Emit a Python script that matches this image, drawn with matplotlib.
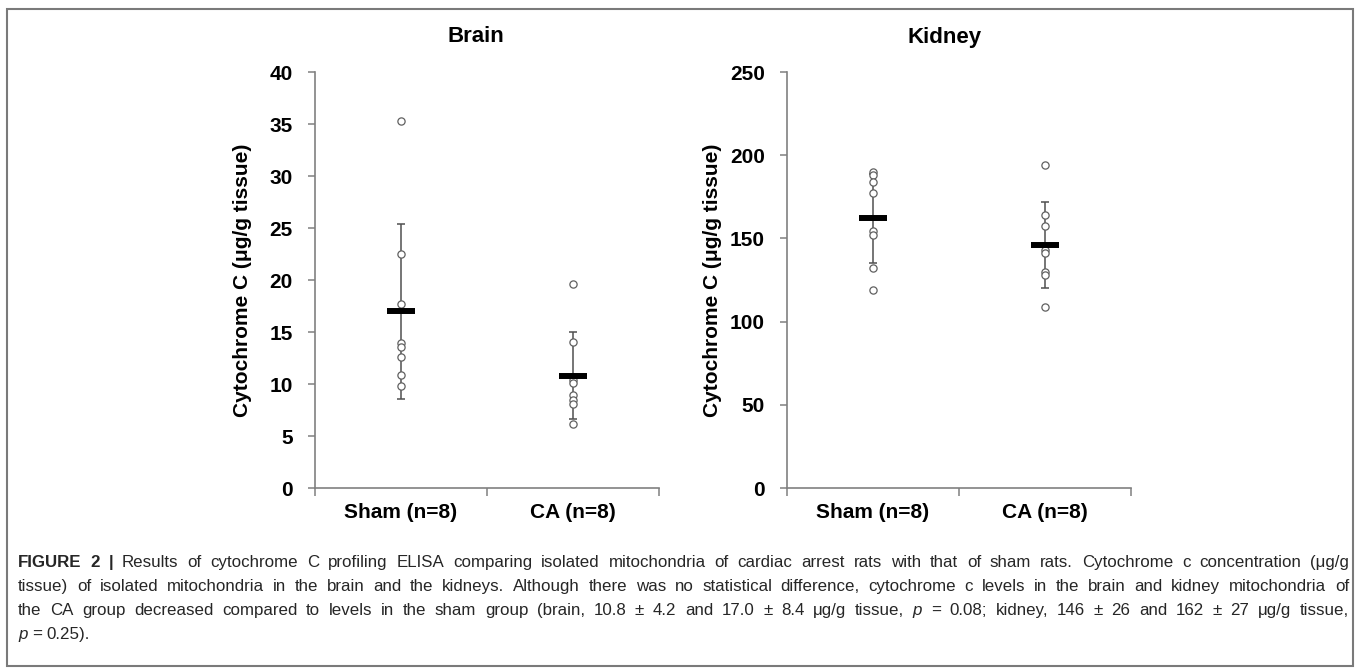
import numpy as np
import matplotlib
matplotlib.use("Agg")
import matplotlib.pyplot as plt
from matplotlib.patches import Rectangle
from matplotlib.transforms import IdentityTransform

plt.rcParams['font.family'] = ['Liberation Sans', 'DejaVu Sans']

groups = ["Sham (n=8)", "CA (n=8)"]

# brain, ug/g tissue
brain_sham = [35.3, 22.5, 17.7, 13.9, 13.6, 12.6, 10.9, 9.8]
brain_ca = [19.6, 14.0, 10.4, 10.1, 8.9, 8.5, 8.1, 6.2]
brain_mean = [17.0, 10.8]
brain_sd = [8.4, 4.2]

# kidney, ug/g tissue
kidney_sham = [190, 188, 184, 177, 154.5, 152, 132, 119]
kidney_ca = [194, 164, 157.5, 143, 141, 130, 128, 109]
kidney_mean = [162, 146]
kidney_sd = [27, 26]

W, H = 1358, 671
fig = plt.figure(figsize=(W / 100, H / 100), dpi=100)

axc = '#808080'


def panel(ax, pts, mean, sd, ymax, ystep):
    x = np.arange(1, len(groups) + 1)
    ax.errorbar(x, mean, yerr=sd, fmt='none', ecolor='#505050', elinewidth=1.1,
                capsize=2.6, capthick=1.1, zorder=2)
    for xi, vals in zip(x, pts):
        ax.plot(np.full(len(vals), xi), vals, 'o', ms=5.2, mfc='white',
                mec='#606060', mew=0.9, zorder=3, clip_on=False)
    ax.hlines(mean, x - 0.083, x + 0.083, colors='black', lw=4.3, zorder=4)
    ax.set_xlim(0.5, len(groups) + 0.5)
    ax.set_ylim(0, ymax)
    ax.set_yticks(np.arange(0, ymax + 1, ystep))
    ax.set_xticks(np.arange(0.5, len(groups) + 1, 1))
    ax.set_xticklabels([])
    ax.set_xticks(x, minor=True)
    ax.set_xticklabels(groups, minor=True, fontsize=15, fontweight='bold')
    ax.tick_params(axis='x', which='major', direction='out', length=6, color=axc, width=1.1)
    ax.tick_params(axis='x', which='minor', length=0, pad=11)
    ax.tick_params(axis='y', direction='out', length=5, color=axc, width=1.1, pad=11,
                   labelsize=15)
    for lab in ax.get_yticklabels():
        lab.set_fontweight('bold')
    for s in ('top', 'right'):
        ax.spines[s].set_visible(False)
    for s in ('left', 'bottom'):
        ax.spines[s].set_color(axc)
        ax.spines[s].set_linewidth(1.2)
    ax.set_ylabel("Cytochrome C (μg/g tissue)", fontsize=15, fontweight='bold')


def frac(px_l, px_r, px_top, px_bot):
    return [px_l / W, 1 - px_bot / H, (px_r - px_l) / W, (px_bot - px_top) / H]


ax1 = fig.add_axes(frac(315, 659, 72, 488))
panel(ax1, [brain_sham, brain_ca], brain_mean, brain_sd, 40, 5)
ax1.yaxis.set_label_coords(-0.183, 0.5)

ax2 = fig.add_axes(frac(787, 1131, 72, 488))
panel(ax2, [kidney_sham, kidney_ca], kidney_mean, kidney_sd, 250, 50)
ax2.yaxis.set_label_coords(-0.19, 0.5)

fig.text(476 / W, 1 - 37 / H, "Brain", ha='center', va='center', fontsize=16, fontweight='bold')
fig.text(945 / W, 1 - 37 / H, "Kidney", ha='center', va='center', fontsize=16, fontweight='bold')

# outer frame
fig.add_artist(Rectangle((7 / W, 1 - 666 / H), (1353 - 7) / W, (666 - 9) / H,
                         transform=fig.transFigure, fill=False, ec='#7a7a7a', lw=1.5))

# caption, laid out word by word and justified
caption = [
    [("FIGURE 2 |", 'b'), ("Results of cytochrome C profiling ELISA comparing isolated mitochondria of "
                          "cardiac arrest rats with that of sham rats. Cytochrome c concentration (μg/g", 'n')],
    [("tissue) of isolated mitochondria in the brain and the kidneys. Although there was no statistical "
      "difference, cytochrome c levels in the brain and kidney mitochondria of", 'n')],
    [("the CA group decreased compared to levels in the sham group (brain, 10.8 ± 4.2 and 17.0 ± 8.4 "
      "μg/g tissue,", 'n'), ("p", 'i'), ("= 0.08; kidney, 146 ± 26 and 162 ± 27 μg/g tissue,", 'n')],
    [("p", 'i'), ("= 0.25).", 'n')],
]
cap_base = [567, 591, 615, 639]
cap_fs = 12.2
x0, x1 = 18, 1349
renderer = fig.canvas.get_renderer()


def style_kw(st):
    return dict(fontweight='bold' if st == 'b' else 'normal',
                fontstyle='italic' if st == 'i' else 'normal')


for li, line in enumerate(caption):
    words = []
    for seg, st in line:
        for w in seg.split():
            words.append((w, st))
    arts = []
    for w, st in words:
        t = fig.text(0, H - cap_base[li], w, transform=IdentityTransform(), fontsize=cap_fs,
                     color='#262626', va='baseline', ha='left', **style_kw(st))
        arts.append(t)
    widths = [a.get_window_extent(renderer).width for a in arts]
    if li < len(caption) - 1:
        gap = (x1 - x0 - sum(widths)) / (len(arts) - 1)
    else:
        gap = cap_fs * 0.28 * 100 / 72
    x = x0
    for a, wd in zip(arts, widths):
        a.set_x(x)
        x += wd + gap

fig.savefig("out.png", dpi=100)
